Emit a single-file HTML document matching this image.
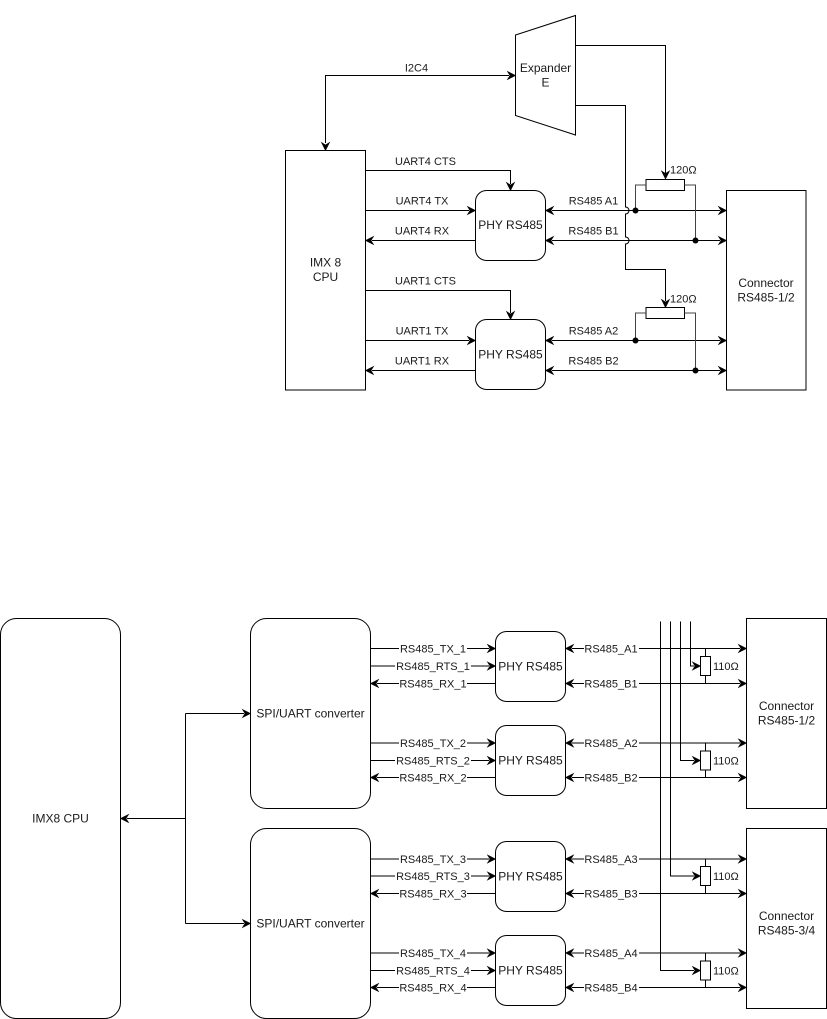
<!DOCTYPE html>
<html><head><meta charset="utf-8"><style>
html,body{margin:0;padding:0;background:#fff;}
svg{display:block;}
text{font-family:"Liberation Sans",Arial,sans-serif;fill:#1a1a1a;}
.s11{font-size:11px;}
.s12{font-size:12px;}
</style></head><body>
<svg width="827" height="1019" viewBox="0 0 827 1019" xmlns="http://www.w3.org/2000/svg">
<defs>
<path id="ar" d="M0,0 L-8,-4 L-5.5,0 L-8,4 Z" fill="#000" stroke="#000" stroke-width="0.6" stroke-linejoin="miter"/>
</defs>
<g fill="none" stroke="#000" stroke-width="1">
<!-- TOP SECTION -->
<polygon points="515.5,35 575.5,15.5 575.5,135 515.5,115.5" fill="#fff"/>
<rect x="285.5" y="150.5" width="80" height="239.5" fill="#fff"/>
<rect x="726.5" y="190.5" width="79.5" height="199.5" fill="#fff"/>
<rect x="475.5" y="190.5" width="70" height="70" rx="11" fill="#fff"/>
<rect x="475.5" y="319.5" width="70" height="70" rx="11" fill="#fff"/>
<!-- I2C4 -->
<path d="M325.5,143 V75.5 H509"/>
<!-- expander outputs -->
<path d="M575.5,45.5 H665.5 V173"/>
<path d="M575.5,105.5 H625.5 V207 A3.5,3.5 0 0 1 625.5,214 V237 A3.5,3.5 0 0 1 625.5,244 V269.5 H665.5 V301"/>
<!-- UART lines -->
<path d="M365.5,170.5 H510.5 V184"/>
<path d="M365.5,210.5 H469"/>
<path d="M475.5,240.5 H372"/>
<path d="M365.5,290.5 H510.5 V313"/>
<path d="M365.5,340.5 H469"/>
<path d="M475.5,370.5 H372"/>
<!-- RS485 lines -->
<path d="M552,210.5 H720"/>
<path d="M552,240.5 H720"/>
<path d="M552,340.5 H720"/>
<path d="M552,370.5 H720"/>
<!-- resistors top -->
<rect x="646" y="179.5" width="38.5" height="11" fill="#fff"/>
<path d="M646,185 H635.5 V210.5 M684.5,185 H695.5 V240.5" stroke="#444"/>
<rect x="646" y="307.5" width="38.5" height="11" fill="#fff"/>
<path d="M646,313 H635.5 V340.5 M684.5,313 H695.5 V370.5" stroke="#444"/>

<!-- BOTTOM SECTION -->
<rect x="0.5" y="618.5" width="120" height="400" rx="16" fill="#fff"/>
<rect x="250.5" y="618.5" width="120" height="190" rx="16" fill="#fff"/>
<rect x="250.5" y="828.5" width="120" height="190" rx="16" fill="#fff"/>
<rect x="495.5" y="631.5" width="70" height="70" rx="11" fill="#fff"/>
<rect x="495.5" y="725.5" width="70" height="70" rx="11" fill="#fff"/>
<rect x="495.5" y="841.5" width="70" height="70" rx="11" fill="#fff"/>
<rect x="495.5" y="935.5" width="70" height="70" rx="11" fill="#fff"/>
<rect x="746.5" y="618.5" width="80" height="190" fill="#fff"/>
<rect x="746.5" y="828.5" width="80" height="180" fill="#fff"/>
<!-- bus -->
<path d="M127,818.5 H185.5 M185.5,713.5 V923.5 M185.5,713.5 H244 M185.5,923.5 H244"/>
<!-- converter to PHY lines -->
<path d="M370.5,648.5 H489 M370.5,666 H489 M377,683.5 H495.5"/>
<path d="M370.5,743 H489 M370.5,760.5 H489 M377,777.5 H495.5"/>
<path d="M370.5,859 H489 M370.5,876 H489 M377,893.5 H495.5"/>
<path d="M370.5,953 H489 M370.5,970.5 H489 M377,987.5 H495.5"/>
<!-- PHY to connector lines -->
<path d="M572,648.5 H740 M572,683.5 H740 M572,743 H740 M572,777.5 H740"/>
<path d="M572,859 H740 M572,893.5 H740 M572,953 H740 M572,987.5 H740"/>
<!-- vertical control lines -->
<path d="M690.5,621.5 V666 H694"/>
<path d="M680.5,621.5 V760.5 H694"/>
<path d="M670.5,621.5 V876 H694"/>
<path d="M660.5,621.5 V970.5 H694"/>
<!-- resistors bottom -->
<path d="M705.5,648.5 V656.5 M705.5,675.5 V683.5"/>
<rect x="700.5" y="656.5" width="10" height="19" fill="#fff"/>
<path d="M705.5,743 V751 M705.5,770 V777.5"/>
<rect x="700.5" y="751" width="10" height="19" fill="#fff"/>
<path d="M705.5,859 V866.5 M705.5,885.5 V893.5"/>
<rect x="700.5" y="866.5" width="10" height="19" fill="#fff"/>
<path d="M705.5,953 V961 M705.5,980 V987.5"/>
<rect x="700.5" y="961" width="10" height="19" fill="#fff"/>
</g>

<!-- dots -->
<g fill="#000">
<circle cx="635.5" cy="210.5" r="3"/>
<circle cx="695.5" cy="240.5" r="3"/>
<circle cx="635.5" cy="340.5" r="3"/>
<circle cx="695.5" cy="370.5" r="3"/>
</g>

<!-- arrowheads -->
<use href="#ar" transform="translate(515.5,75.5)"/>
<use href="#ar" transform="translate(325.5,150.5) rotate(90)"/>
<use href="#ar" transform="translate(665.5,179) rotate(90)"/>
<use href="#ar" transform="translate(665.5,307.5) rotate(90)"/>
<use href="#ar" transform="translate(510.5,190.5) rotate(90)"/>
<use href="#ar" transform="translate(510.5,319.5) rotate(90)"/>
<use href="#ar" transform="translate(475.5,210.5)"/>
<use href="#ar" transform="translate(365.5,240.5) rotate(180)"/>
<use href="#ar" transform="translate(475.5,340.5)"/>
<use href="#ar" transform="translate(365.5,370.5) rotate(180)"/>
<use href="#ar" transform="translate(545.5,210.5) rotate(180)"/>
<use href="#ar" transform="translate(545.5,240.5) rotate(180)"/>
<use href="#ar" transform="translate(545.5,340.5) rotate(180)"/>
<use href="#ar" transform="translate(545.5,370.5) rotate(180)"/>
<use href="#ar" transform="translate(726.5,210.5)"/>
<use href="#ar" transform="translate(726.5,240.5)"/>
<use href="#ar" transform="translate(726.5,340.5)"/>
<use href="#ar" transform="translate(726.5,370.5)"/>

<use href="#ar" transform="translate(120.5,818.5) rotate(180)"/>
<use href="#ar" transform="translate(250.5,713.5)"/>
<use href="#ar" transform="translate(250.5,923.5)"/>

<use href="#ar" transform="translate(495.5,648.5)"/>
<use href="#ar" transform="translate(495.5,666)"/>
<use href="#ar" transform="translate(370.5,683.5) rotate(180)"/>
<use href="#ar" transform="translate(495.5,743)"/>
<use href="#ar" transform="translate(495.5,760.5)"/>
<use href="#ar" transform="translate(370.5,777.5) rotate(180)"/>
<use href="#ar" transform="translate(495.5,859)"/>
<use href="#ar" transform="translate(495.5,876)"/>
<use href="#ar" transform="translate(370.5,893.5) rotate(180)"/>
<use href="#ar" transform="translate(495.5,953)"/>
<use href="#ar" transform="translate(495.5,970.5)"/>
<use href="#ar" transform="translate(370.5,987.5) rotate(180)"/>

<use href="#ar" transform="translate(565.5,648.5) rotate(180)"/>
<use href="#ar" transform="translate(565.5,683.5) rotate(180)"/>
<use href="#ar" transform="translate(565.5,743) rotate(180)"/>
<use href="#ar" transform="translate(565.5,777.5) rotate(180)"/>
<use href="#ar" transform="translate(565.5,859) rotate(180)"/>
<use href="#ar" transform="translate(565.5,893.5) rotate(180)"/>
<use href="#ar" transform="translate(565.5,953) rotate(180)"/>
<use href="#ar" transform="translate(565.5,987.5) rotate(180)"/>
<use href="#ar" transform="translate(746.5,648.5)"/>
<use href="#ar" transform="translate(746.5,683.5)"/>
<use href="#ar" transform="translate(746.5,743)"/>
<use href="#ar" transform="translate(746.5,777.5)"/>
<use href="#ar" transform="translate(746.5,859)"/>
<use href="#ar" transform="translate(746.5,893.5)"/>
<use href="#ar" transform="translate(746.5,953)"/>
<use href="#ar" transform="translate(746.5,987.5)"/>

<use href="#ar" transform="translate(700.5,666)"/>
<use href="#ar" transform="translate(700.5,760.5)"/>
<use href="#ar" transform="translate(700.5,876)"/>
<use href="#ar" transform="translate(700.5,970.5)"/>

<!-- label backgrounds (bottom) -->
<g fill="#fff">
<rect x="399" y="642" width="68" height="13"/>
<rect x="395" y="659.5" width="76" height="13"/>
<rect x="399" y="677" width="68" height="13"/>
<rect x="399" y="736.5" width="68" height="13"/>
<rect x="395" y="754" width="76" height="13"/>
<rect x="399" y="771" width="68" height="13"/>
<rect x="399" y="852.5" width="68" height="13"/>
<rect x="395" y="869.5" width="76" height="13"/>
<rect x="399" y="887" width="68" height="13"/>
<rect x="399" y="946.5" width="68" height="13"/>
<rect x="395" y="964" width="76" height="13"/>
<rect x="399" y="981" width="68" height="13"/>
<rect x="584" y="642" width="55" height="13"/>
<rect x="584" y="677" width="55" height="13"/>
<rect x="584" y="736.5" width="55" height="13"/>
<rect x="584" y="771" width="55" height="13"/>
<rect x="584" y="852.5" width="55" height="13"/>
<rect x="584" y="887" width="55" height="13"/>
<rect x="584" y="946.5" width="55" height="13"/>
<rect x="584" y="981" width="55" height="13"/>
</g>

<!-- TOP TEXT -->
<g class="s12" text-anchor="middle">
<text x="545.5" y="72">Expander</text>
<text x="545.5" y="86.5">E</text>
<text x="325.5" y="266.5">IMX 8</text>
<text x="325.5" y="281">CPU</text>
<text x="510.5" y="229">PHY RS485</text>
<text x="510.5" y="358.5">PHY RS485</text>
<text x="766" y="287">Connector</text>
<text x="766" y="301.5">RS485-1/2</text>
</g>
<g class="s11" text-anchor="middle">
<text x="416.5" y="71.5">I2C4</text>
<text x="425.5" y="165">UART4 CTS</text>
<text x="422" y="204.5">UART4 TX</text>
<text x="422" y="234.5">UART4 RX</text>
<text x="425.5" y="284.5">UART1 CTS</text>
<text x="422" y="334.5">UART1 TX</text>
<text x="422" y="364.5">UART1 RX</text>
<text x="593.5" y="204.5">RS485 A1</text>
<text x="593.5" y="234.5">RS485 B1</text>
<text x="593.5" y="334.5">RS485 A2</text>
<text x="593.5" y="364.5">RS485 B2</text>
</g>
<g class="s11">
<text x="670" y="173.5">120Ω</text>
<text x="670" y="302.5">120Ω</text>
</g>

<!-- BOTTOM TEXT -->
<g class="s12" text-anchor="middle">
<text x="60.5" y="822.5">IMX8 CPU</text>
<text x="310.5" y="717.5">SPI/UART converter</text>
<text x="310.5" y="927.5">SPI/UART converter</text>
<text x="530.5" y="670.5">PHY RS485</text>
<text x="530.5" y="764.5">PHY RS485</text>
<text x="530.5" y="880.5">PHY RS485</text>
<text x="530.5" y="974.5">PHY RS485</text>
<text x="786.5" y="710">Connector</text>
<text x="786.5" y="724.5">RS485-1/2</text>
<text x="786.5" y="920">Connector</text>
<text x="786.5" y="934.5">RS485-3/4</text>
</g>
<g class="s11" text-anchor="middle">
<text x="433" y="652.5">RS485_TX_1</text>
<text x="433" y="670">RS485_RTS_1</text>
<text x="433" y="687.5">RS485_RX_1</text>
<text x="433" y="747">RS485_TX_2</text>
<text x="433" y="764.5">RS485_RTS_2</text>
<text x="433" y="781.5">RS485_RX_2</text>
<text x="433" y="863">RS485_TX_3</text>
<text x="433" y="880">RS485_RTS_3</text>
<text x="433" y="897.5">RS485_RX_3</text>
<text x="433" y="957">RS485_TX_4</text>
<text x="433" y="974.5">RS485_RTS_4</text>
<text x="433" y="991.5">RS485_RX_4</text>
<text x="611" y="652.5">RS485_A1</text>
<text x="611" y="687.5">RS485_B1</text>
<text x="611" y="747">RS485_A2</text>
<text x="611" y="781.5">RS485_B2</text>
<text x="611" y="863">RS485_A3</text>
<text x="611" y="897.5">RS485_B3</text>
<text x="611" y="957">RS485_A4</text>
<text x="611" y="991.5">RS485_B4</text>
</g>
<g class="s11">
<text x="713" y="670">110Ω</text>
<text x="713" y="764.5">110Ω</text>
<text x="713" y="880">110Ω</text>
<text x="713" y="974.5">110Ω</text>
</g>
</svg>
</body></html>
